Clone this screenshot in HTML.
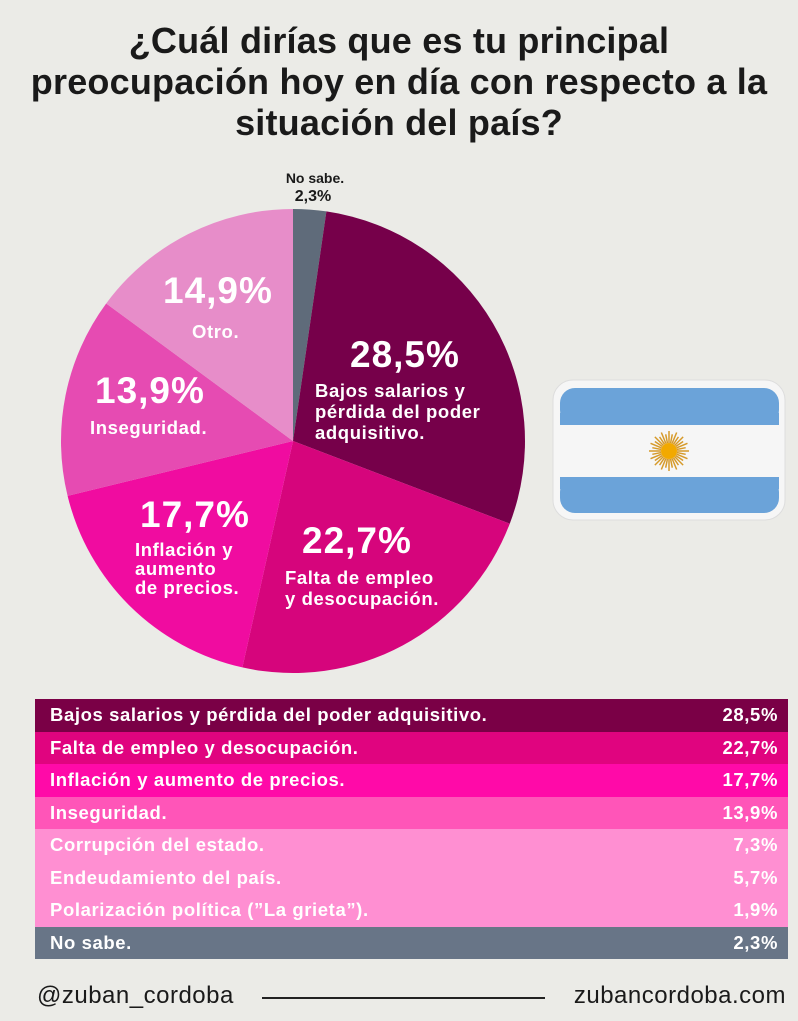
<!DOCTYPE html>
<html><head><meta charset="utf-8">
<style>
body{margin:0;width:798px;height:1021px;background:#ebebe7;font-family:"Liberation Sans",sans-serif;overflow:hidden;position:relative}
.t{position:absolute;left:0;width:798px;text-align:center;font-weight:bold;font-size:36px;line-height:41px;top:20px;color:#1a1a1a;letter-spacing:0.2px}
.tbl{position:absolute;left:35px;top:699px;width:753px}
.r{height:32.5px;line-height:32.5px;color:#fff;font-weight:bold;font-size:18.5px;letter-spacing:0.6px;padding:0 10px 0 15px;display:flex;justify-content:space-between}
.f{position:absolute;top:982px;font-size:24px;color:#1a1a1a;letter-spacing:0.5px}
</style></head><body>
<div class="t">¿Cuál dirías que es tu principal<br>preocupación hoy en día con respecto a la<br>situación del país?</div>
<svg width="798" height="700" style="position:absolute;left:0;top:0" id="s">
<g id="pie"></g>
<g font-family="Liberation Sans" font-weight="bold" fill="#fff">
<text x="315" y="183" font-size="14" fill="#1a1a1a" text-anchor="middle">No sabe.</text>
<text x="313" y="201" font-size="16" fill="#1a1a1a" text-anchor="middle">2,3%</text>
<text x="350" y="367" font-size="37" letter-spacing="1">28,5%</text>
<text x="315" y="397" font-size="18.5" letter-spacing="0.6">Bajos salarios y</text>
<text x="315" y="418" font-size="18.5" letter-spacing="0.6">pérdida del poder</text>
<text x="315" y="439" font-size="18.5" letter-spacing="0.6">adquisitivo.</text>
<text x="163" y="303" font-size="37" letter-spacing="1">14,9%</text>
<text x="192" y="338" font-size="18.5" letter-spacing="0.6">Otro.</text>
<text x="95" y="403" font-size="37" letter-spacing="1">13,9%</text>
<text x="90" y="434" font-size="18.5" letter-spacing="0.6">Inseguridad.</text>
<text x="140" y="527" font-size="37" letter-spacing="1">17,7%</text>
<text x="135" y="556" font-size="18.5" letter-spacing="0.6">Inflación y</text>
<text x="135" y="575" font-size="18.5" letter-spacing="0.6">aumento</text>
<text x="135" y="594" font-size="18.5" letter-spacing="0.6">de precios.</text>
<text x="302" y="553" font-size="37" letter-spacing="1">22,7%</text>
<text x="285" y="584" font-size="18.5" letter-spacing="0.6">Falta de empleo</text>
<text x="285" y="605" font-size="18.5" letter-spacing="0.6">y desocupación.</text>
</g>
<rect x="553" y="380" width="232" height="140" rx="20" fill="#f6f6f6" stroke="#ddd"/>
<rect x="560" y="388" width="219" height="37" rx="15" fill="#6ba3d9"/>
<rect x="560" y="413" width="219" height="12" fill="#6ba3d9"/>
<rect x="560" y="477" width="219" height="36" rx="15" fill="#6ba3d9"/>
<rect x="560" y="477" width="219" height="12" fill="#6ba3d9"/>
<g id="sun"></g>
<circle cx="669" cy="451" r="8" fill="#f2a900"/>
</svg>
<div class="tbl">
<div class="r" style="background:#7a0046"><span>Bajos salarios y pérdida del poder adquisitivo.</span><span>28,5%</span></div>
<div class="r" style="background:#e0047f"><span>Falta de empleo y desocupación.</span><span>22,7%</span></div>
<div class="r" style="background:#ff0aa8"><span>Inflación y aumento de precios.</span><span>17,7%</span></div>
<div class="r" style="background:#ff55b8"><span>Inseguridad.</span><span>13,9%</span></div>
<div class="r" style="background:#ff8fd2"><span>Corrupción del estado.</span><span>7,3%</span></div>
<div class="r" style="background:#ff8fd2"><span>Endeudamiento del país.</span><span>5,7%</span></div>
<div class="r" style="background:#ff8fd2"><span>Polarización política (”La grieta”).</span><span>1,9%</span></div>
<div class="r" style="background:#687587"><span>No sabe.</span><span>2,3%</span></div>
</div>
<div class="f" style="left:37px">@zuban_cordoba</div>
<div style="position:absolute;left:262px;top:997px;width:283px;height:2px;background:#222"></div>
<div class="f" style="right:12px">zubancordoba.com</div>
<script>
var cx=293,cy=441,r=232,d=[[2.3,"#5f6b7a"],[28.5,"#76004a"],[22.7,"#d6057c"],[17.7,"#f00ca0"],[13.9,"#e64bb2"],[14.9,"#e78dc9"]],a=0,h="";
function p(x){var t=x*3.6*Math.PI/180;return (cx+r*Math.sin(t)).toFixed(2)+","+(cy-r*Math.cos(t)).toFixed(2);}
d.forEach(function(s){var b=a+s[0];h+='<path d="M'+cx+','+cy+' L'+p(a)+' A'+r+','+r+' 0 '+(s[0]>50?1:0)+' 1 '+p(b)+' Z" fill="'+s[1]+'"/>';a=b;});
document.getElementById("pie").innerHTML=h;
var g="";for(var i=0;i<32;i++){var t=i*Math.PI/16;g+='<line x1="'+(669+8*Math.cos(t))+'" y1="'+(451+8*Math.sin(t))+'" x2="'+(669+(i%2?17:20)*Math.cos(t))+'" y2="'+(451+(i%2?17:20)*Math.sin(t))+'" stroke="#d69a2a" stroke-width="1.5"/>';}
document.getElementById("sun").innerHTML=g;
</script>
</body></html>
